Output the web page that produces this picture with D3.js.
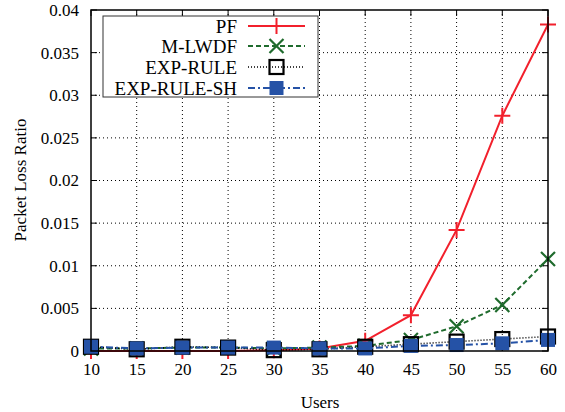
<!DOCTYPE html>
<html><head><meta charset="utf-8">
<script src="https://cdn.jsdelivr.net/npm/d3@7"></script>
<style>body{margin:0;background:#fff}svg{display:block}</style>
</head><body><svg id="c" width="565" height="412"></svg>
<script>
const users = [10,15,20,25,30,35,40,45,50,55,60];
const pf      = [0.0000,0.0000,0.0000,0.0000,0.0001,0.0003,0.0012,0.0042,0.0142,0.0276,0.0383];
const mlwdf   = [0.0003,0.0003,0.0004,0.0004,0.0003,0.0004,0.0006,0.0013,0.0029,0.0054,0.0108];
const exprule = [0.0005,0.0002,0.0005,0.0004,0.0001,0.0002,0.0005,0.0008,0.0011,0.0014,0.0017];
const expsh   = [0.0005,0.0003,0.0004,0.0004,0.0004,0.0003,0.0003,0.0006,0.0007,0.0009,0.0013];
const xTicks = [10,15,20,25,30,35,40,45,50,55,60];
const yTicks = [0,0.005,0.01,0.015,0.02,0.025,0.03,0.035,0.04];
const seriesNames = ["PF","M-LWDF","EXP-RULE","EXP-RULE-SH"];

const FONT = "'Liberation Serif', 'Times New Roman', serif";
const svg = d3.select("#c");
const L=91,R=548,T=10,B=351;
const x = d3.scaleLinear().domain([10,60]).range([L,R]);
const y = d3.scaleLinear().domain([0,0.04]).range([B,T]);

// grid
const g = svg.append("g");
g.selectAll(".gx").data(xTicks.slice(1,-1)).join("line")
 .attr("x1",d=>x(d)).attr("x2",d=>x(d)).attr("y1",T).attr("y2",B)
 .attr("stroke","#000").attr("stroke-width",1).attr("stroke-dasharray","1,3");
g.selectAll(".gy").data(yTicks.slice(1,-1)).join("line")
 .attr("y1",d=>y(d)).attr("y2",d=>y(d)).attr("x1",L).attr("x2",R)
 .attr("stroke","#000").attr("stroke-width",1).attr("stroke-dasharray","1,3");

// axes
const ax = d3.axisBottom(x).tickValues(xTicks).tickSize(0).tickPadding(12);
svg.append("g").attr("transform",`translate(0,${B})`).call(ax)
 .call(s=>s.select(".domain").remove())
 .attr("font-family",null)
 .selectAll("text").style("font-family",FONT).style("font-size","17px").attr("fill","#000");
const ay = d3.axisLeft(y).tickValues(yTicks).tickSize(0).tickPadding(12).tickFormat(d=>d===0?"0":String(+d.toFixed(3)));
svg.append("g").attr("transform",`translate(${L},0)`).call(ay)
 .call(s=>s.select(".domain").remove())
 .attr("font-family",null)
 .selectAll("text").style("font-family",FONT).style("font-size","17px").attr("fill","#000");

// inward ticks
const tk = svg.append("g").attr("stroke","#000").attr("stroke-width",1);
xTicks.forEach(v=>{
  tk.append("line").attr("x1",x(v)).attr("x2",x(v)).attr("y1",B).attr("y2",B-6);
  tk.append("line").attr("x1",x(v)).attr("x2",x(v)).attr("y1",T).attr("y2",T+6);
});
yTicks.forEach(v=>{
  tk.append("line").attr("x1",L).attr("x2",L+6).attr("y1",y(v)).attr("y2",y(v));
  tk.append("line").attr("x1",R).attr("x2",R-6).attr("y1",y(v)).attr("y2",y(v));
});

const styles = [
  {vals:pf, color:"#f2202c", dash:null, w:2, marker:"plus"},
  {vals:mlwdf, color:"#1f6b2d", dash:"5,3", w:2, marker:"cross"},
  {vals:exprule, color:"#000", dash:"1,2", w:1.6, marker:"sq"},
  {vals:expsh, color:"#2552a6", dash:"7,3,2,3", w:2, marker:"fsq"}
];
const line = d3.line().x((d,i)=>x(users[i])).y(d=>y(d));
const plot = svg.append("g");
function marker(gr, cx, cy, st){
  if(st.marker==="plus"){
    gr.append("path").attr("d",`M${cx-8},${cy}H${cx+8}M${cx},${cy-8}V${cy+8}`).attr("stroke",st.color).attr("stroke-width",2).attr("fill","none");
  } else if(st.marker==="cross"){
    gr.append("path").attr("d",`M${cx-7},${cy-7}L${cx+7},${cy+7}M${cx-7},${cy+7}L${cx+7},${cy-7}`).attr("stroke",st.color).attr("stroke-width",2.2).attr("fill","none");
  } else if(st.marker==="sq"){
    gr.append("rect").attr("x",cx-7).attr("y",cy-7).attr("width",14).attr("height",14).attr("fill","none").attr("stroke","#000").attr("stroke-width",2.2);
  } else {
    gr.append("rect").attr("x",cx-7).attr("y",cy-7).attr("width",14).attr("height",14).attr("fill",st.color).attr("stroke","none");
  }
}
styles.forEach(st=>{
  plot.append("path").datum(st.vals).attr("d",line).attr("fill","none")
    .attr("stroke",st.color).attr("stroke-width",st.w).attr("stroke-dasharray",st.dash);
  st.vals.forEach((v,i)=>marker(plot,x(users[i]),y(v),st));
});

// frame
svg.append("rect").attr("x",L).attr("y",T).attr("width",R-L).attr("height",B-T)
 .attr("fill","none").attr("stroke","#000").attr("stroke-width",1.5);

// legend
const lg = svg.append("g");
lg.append("rect").attr("x",103).attr("y",16).attr("width",215).attr("height",81)
 .attr("fill","#fff").attr("stroke","#333").attr("stroke-width",1);
const rowY=[26,46,67,88];
styles.forEach((st,i)=>{
  const yy=rowY[i];
  lg.append("text").attr("x",237).attr("y",yy).attr("dy","0.35em").attr("text-anchor","end")
    .style("font-family",FONT).style("font-size","19px").text(seriesNames[i]);
  lg.append("line").attr("x1",248).attr("x2",305).attr("y1",yy).attr("y2",yy)
    .attr("stroke",st.color).attr("stroke-width",st.w).attr("stroke-dasharray",st.dash);
  marker(lg,276.5,yy,st);
});

// titles
svg.append("text").attr("x",320).attr("y",402).attr("dy","0.35em").attr("text-anchor","middle").style("font-family",FONT).style("font-size","17px").text("Users");
svg.append("text").attr("transform","translate(20,180) rotate(-90)").attr("dy","0.35em").attr("text-anchor","middle").style("font-family",FONT).style("font-size","17px").text("Packet Loss Ratio");
</script></body></html>
